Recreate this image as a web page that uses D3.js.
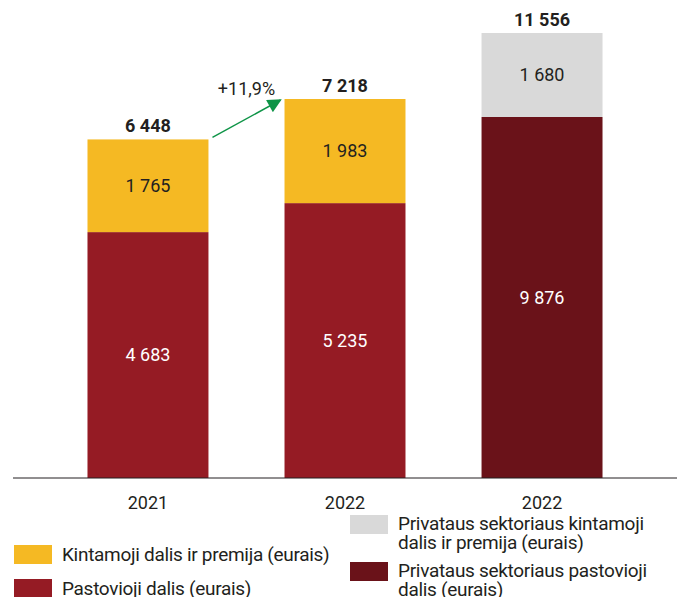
<!DOCTYPE html>
<html>
<head>
<meta charset="utf-8">
<script src="https://cdn.jsdelivr.net/npm/d3@7"></script>
<style>
  body { margin: 0; background: #fff; }
  svg text { font-family: "Roboto", "Liberation Sans", sans-serif; fill: #231f20; }
  .legend-text { font-size: 19px; letter-spacing: -0.3px; }
</style>
</head>
<body>
<script>
// data
var categories = ["2021", "2022", "2022"];
var variablePart = [1765, 1983, 1680];   // kintamoji dalis ir premija
var fixedPart = [4683, 5235, 9876];      // pastovioji dalis
var totals = [6448, 7218, 11556];
var isPrivate = [false, false, true];
var growthLabel = "+11,9%";

var legendLeft = ["Kintamoji dalis ir premija (eurais)", "Pastovioji dalis (eurais)"];
var legendRight = [["Privataus sektoriaus kintamoji", "dalis ir premija (eurais)"],
                   ["Privataus sektoriaus pastovioji", "dalis (eurais)"]];

var colors = {
  variable: "#f5b923",
  fixed: "#951b24",
  privVariable: "#d9d9d9",
  privFixed: "#6a1219",
  arrow: "#0e9447"
};

var width = 681, height = 597;
var baseline = 478;

var svg = d3.select("body").append("svg")
    .attr("width", width)
    .attr("height", height);

var x = d3.scaleBand()
    .domain(d3.range(categories.length))
    .range([14, 676])
    .paddingInner(0.386)
    .paddingOuter(0.373);

// public sector bars and the private sector bar are not drawn on the same scale in the original
var yPub = d3.scaleLinear().domain([0, 7218]).range([baseline, 99]);
var yPriv = d3.scaleLinear().domain([0, 9876, 11556]).range([baseline, 117, 33]);

function yFor(i) { return isPrivate[i] ? yPriv : yPub; }

var bars = svg.selectAll(".bar")
    .data(categories)
    .enter().append("g")
    .attr("class", "bar");

// fixed part (bottom)
bars.append("rect")
    .attr("x", function(d, i) { return x(i); })
    .attr("width", x.bandwidth())
    .attr("y", function(d, i) { return yFor(i)(fixedPart[i]); })
    .attr("height", function(d, i) { return baseline - yFor(i)(fixedPart[i]); })
    .attr("fill", function(d, i) { return isPrivate[i] ? colors.privFixed : colors.fixed; });

// variable part (top)
bars.append("rect")
    .attr("x", function(d, i) { return x(i); })
    .attr("width", x.bandwidth())
    .attr("y", function(d, i) { return yFor(i)(fixedPart[i] + variablePart[i]); })
    .attr("height", function(d, i) { return yFor(i)(fixedPart[i]) - yFor(i)(fixedPart[i] + variablePart[i]); })
    .attr("fill", function(d, i) { return isPrivate[i] ? colors.privVariable : colors.variable; });

var fmt = function(v) { return d3.format(",")(v).replace(/,/g, " "); };

// segment labels
bars.append("text")
    .attr("x", function(d, i) { return x(i) + x.bandwidth() / 2; })
    .attr("y", function(d, i) { return (baseline + yFor(i)(fixedPart[i])) / 2; })
    .attr("dy", ".35em")
    .attr("text-anchor", "middle")
    .style("font-size", "18px")
    .style("fill", "#fff")
    .text(function(d, i) { return fmt(fixedPart[i]); });

bars.append("text")
    .attr("x", function(d, i) { return x(i) + x.bandwidth() / 2; })
    .attr("y", function(d, i) { return (yFor(i)(fixedPart[i]) + yFor(i)(totals[i])) / 2; })
    .attr("dy", ".35em")
    .attr("text-anchor", "middle")
    .style("font-size", "18px")
    .text(function(d, i) { return fmt(variablePart[i]); });

// totals
bars.append("text")
    .attr("x", function(d, i) { return x(i) + x.bandwidth() / 2; })
    .attr("y", function(d, i) { return yFor(i)(totals[i]) - 7; })
    .attr("text-anchor", "middle")
    .style("font-size", "18px")
    .style("font-weight", "bold")
    .text(function(d, i) { return fmt(totals[i]); });

// baseline + category labels
svg.append("line")
    .attr("x1", 13).attr("x2", 677)
    .attr("y1", baseline).attr("y2", baseline)
    .attr("stroke", "#231f20")
    .attr("stroke-width", 1);

svg.selectAll(".cat")
    .data(categories)
    .enter().append("text")
    .attr("class", "cat")
    .attr("x", function(d, i) { return x(i) + x.bandwidth() / 2; })
    .attr("y", 509)
    .attr("text-anchor", "middle")
    .style("font-size", "18px")
    .text(function(d) { return d; });

// growth arrow between the first two bars
svg.append("defs").append("marker")
    .attr("id", "head")
    .attr("viewBox", "0 0 10 10")
    .attr("refX", 9).attr("refY", 5)
    .attr("markerWidth", 16).attr("markerHeight", 14)
    .attr("markerUnits", "userSpaceOnUse")
    .attr("orient", "auto")
    .append("path")
    .attr("d", "M0,0 L10,5 L0,10 Z")
    .attr("fill", colors.arrow);

var ax1 = x(0) + x.bandwidth() + 4, ay1 = yPub(totals[0]) - 2;
var ax2 = x(1) - 4, ay2 = yPub(totals[1]) + 1;
svg.append("line")
    .attr("x1", ax1).attr("y1", ay1)
    .attr("x2", ax2).attr("y2", ay2)
    .attr("stroke", colors.arrow)
    .attr("stroke-width", 1.5)
    .attr("marker-end", "url(#head)");

svg.append("text")
    .attr("x", (x(0) + x.bandwidth() + x(1)) / 2)
    .attr("y", 95)
    .attr("text-anchor", "middle")
    .style("font-size", "18px")
    .text(growthLabel);

// legend
var leftCols = [colors.variable, colors.fixed];
var leftY = [545, 579];
legendLeft.forEach(function(t, i) {
  svg.append("rect").attr("x", 14).attr("y", leftY[i]).attr("width", 38).attr("height", 19).attr("fill", leftCols[i]);
  svg.append("text").attr("class", "legend-text").attr("x", 62).attr("y", leftY[i] + 16).text(t);
});

var rightCols = [colors.privVariable, colors.privFixed];
var rightY = [515, 562];
legendRight.forEach(function(lines, i) {
  svg.append("rect").attr("x", 350).attr("y", rightY[i]).attr("width", 38).attr("height", 19).attr("fill", rightCols[i]);
  lines.forEach(function(t, j) {
    svg.append("text").attr("class", "legend-text").attr("x", 398).attr("y", rightY[i] + 15 + j * 19).text(t);
  });
});
</script>
</body>
</html>
